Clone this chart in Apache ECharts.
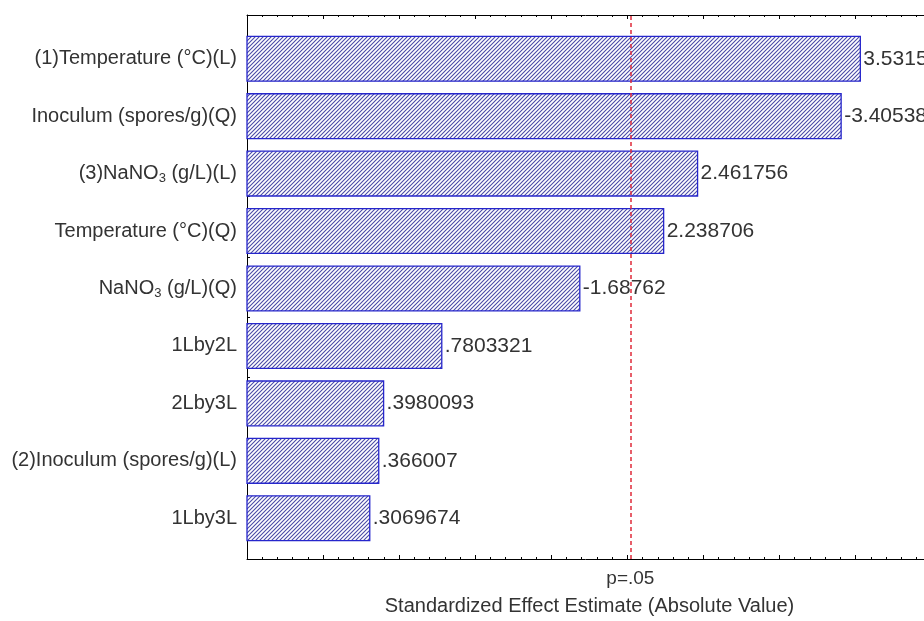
<!DOCTYPE html>
<html>
<head>
<meta charset="utf-8">
<title>Pareto chart of standardized effects</title>
<script src="https://cdn.jsdelivr.net/npm/echarts@6/dist/echarts.min.js"></script>
<style>
  html, body { margin: 0; padding: 0; background: #fff; }
  #chart { width: 924px; height: 621px; }
</style>
</head>
<body>
<div id="chart"></div>
<script>
// effects, top to bottom as in the chart
const factors = [
  '(1)Temperature (°C)(L)',
  'Inoculum (spores/g)(Q)',
  '(3)NaNO3 (g/L)(L)',
  'Temperature (°C)(Q)',
  'NaNO3 (g/L)(Q)',
  '1Lby2L',
  '2Lby3L',
  '(2)Inoculum (spores/g)(L)',
  '1Lby3L'
]
const effects = [3.5315, -3.40538, 2.461756, 2.238706, -1.68762, 0.7803321, 0.3980093, 0.366007, 0.3069674]
const pCrit = 2.02   // p=.05 line
const xMin = -0.5
const xMax = 3.95    // frame runs off the right edge of the picture

// hatch fill "////"
const makeHatch = () => {
  const c = document.createElement('canvas')
  c.width = 4
  c.height = 4
  const ctx = c.getContext('2d')
  ctx.fillStyle = '#ffffff'
  ctx.fillRect(0, 0, 4, 4)
  ctx.strokeStyle = '#4a4aa6'
  ctx.lineWidth = 1.1
  ctx.beginPath()
  ctx.moveTo(-1, 5); ctx.lineTo(5, -1)
  ctx.moveTo(-1, 1); ctx.lineTo(1, -1)
  ctx.moveTo(3, 5); ctx.lineTo(5, 3)
  ctx.stroke()
  return c
}
const hatch = makeHatch()

const fmtEffect = (v) => String(v).replace(/^(-?)0\./, '$1.')

const chart = echarts.init(document.getElementById('chart'))
const font = 'Arial, "Liberation Sans", sans-serif'

// bars start at the left edge of the axis (xMin), not at zero
const renderBar = (params, api) => {
  const val = api.value(0)
  const idx = api.value(1)
  const start = api.coord([xMin, idx])
  const end = api.coord([val, idx])
  const h = api.size([0, 1])[1] * 0.78
  return {
    type: 'group',
    children: [
      {
        type: 'rect',
        shape: { x: start[0], y: end[1] - h / 2, width: end[0] - start[0], height: h },
        style: {
          fill: { image: hatch, repeat: 'repeat' },
          stroke: '#2626cc',
          lineWidth: 1.3
        }
      },
      {
        type: 'text',
        style: {
          text: fmtEffect(effects[params.dataIndex]),
          x: end[0] + 3,
          y: end[1],
          verticalAlign: 'middle',
          align: 'left',
          font: '21px ' + font,
          fill: '#333'
        }
      }
    ]
  }
}

const frameX = {
  type: 'value',
  min: xMin,
  max: xMax,
  interval: 0.5,
  axisLine: { show: true, onZero: false, lineStyle: { color: '#000', width: 1 } },
  axisTick: { show: true, inside: true, length: 4, lineStyle: { color: '#000' } },
  minorTick: { show: true, splitNumber: 5, length: 2, lineStyle: { color: '#000' } },
  axisLabel: { show: false },
  splitLine: { show: false }
}

const option = {
  animation: false,
  backgroundColor: '#fff',
  grid: [
    { left: 247, right: 0, top: 15, bottom: 62 },
    { left: 247, right: 0, top: 30, bottom: 74 }
  ],
  xAxis: [
    Object.assign({}, frameX, {
      gridIndex: 0,
      position: 'bottom',
      name: 'Standardized Effect Estimate (Absolute Value)',
      nameLocation: 'middle',
      nameGap: 37,
      nameTextStyle: { fontFamily: font, fontSize: 20, color: '#333', padding: [0, 0, 0, 8] }
    }),
    Object.assign({}, frameX, { gridIndex: 0, position: 'top' }),
    { type: 'value', gridIndex: 1, min: xMin, max: xMax, show: false }
  ],
  yAxis: [
    {
      type: 'value',
      gridIndex: 0,
      position: 'left',
      min: 0,
      max: 36,
      interval: 4,
      axisLine: { show: true, onZero: false, lineStyle: { color: '#000' } },
      axisTick: { show: true, inside: true, length: 3, lineStyle: { color: '#000' } },
      axisLabel: { show: false },
      splitLine: { show: false }
    },
    {
      type: 'category',
      gridIndex: 1,
      inverse: true,
      data: factors,
      axisLine: { show: false },
      axisTick: { show: false },
      axisLabel: {
        margin: 10,
        fontFamily: font,
        fontSize: 20,
        color: '#333',
        formatter: (v) => v.replace('NaNO3', 'NaNO{sub|3}'),
        rich: {
          sub: { fontFamily: font, fontSize: 13, color: '#333', padding: [9, 0, 0, 0] }
        }
      }
    }
  ],
  series: [
    {
      type: 'custom',
      xAxisIndex: 2,
      yAxisIndex: 1,
      renderItem: renderBar,
      encode: { x: 0, y: 1 },
      data: effects.map((v, i) => [Math.abs(v), i])
    },
    {
      type: 'scatter',
      xAxisIndex: 0,
      yAxisIndex: 0,
      data: [],
      markLine: {
        silent: true,
        symbol: 'none',
        data: [{ xAxis: pCrit }],
        lineStyle: { color: '#e02a3a', type: [4, 3], width: 1.5 },
        label: {
          show: true,
          position: 'start',
          distance: 10,
          formatter: 'p=.05',
          fontFamily: font,
          fontSize: 19,
          color: '#333'
        }
      }
    }
  ]
}

chart.setOption(option)
</script>
</body>
</html>
